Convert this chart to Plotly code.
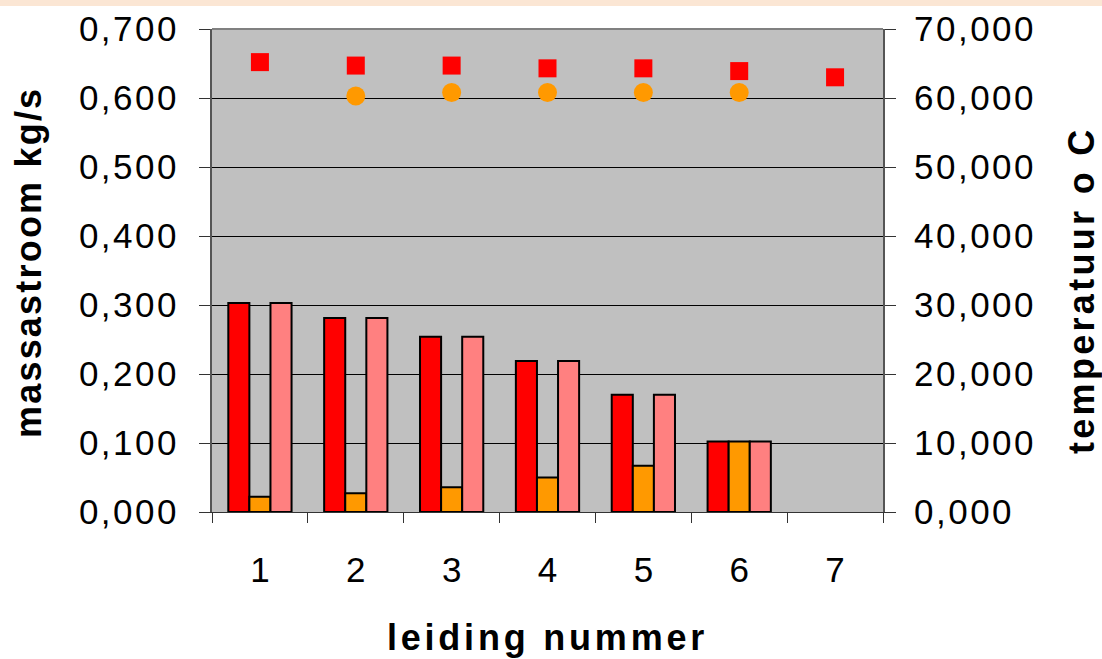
import plotly.graph_objects as go

categories = ["1", "2", "3", "4", "5", "6", "7"]
mass_red = [0.303, 0.281, 0.254, 0.219, 0.170, 0.102, None]
mass_orange = [0.022, 0.027, 0.036, 0.050, 0.067, 0.102, None]
mass_pink = [0.303, 0.281, 0.254, 0.219, 0.170, 0.102, None]
temp_red = [65.2, 64.7, 64.7, 64.3, 64.3, 63.9, 63.0]
temp_orange = [None, 60.3, 60.8, 60.8, 60.8, 60.8, None]

left_ticks = [0.0, 0.1, 0.2, 0.3, 0.4, 0.5, 0.6, 0.7]
left_ticktext = ["0,000", "0,100", "0,200", "0,300", "0,400", "0,500", "0,600", "0,700"]
right_ticks = [0, 10, 20, 30, 40, 50, 60, 70]
right_ticktext = ["0,000", "10,000", "20,000", "30,000", "40,000", "50,000", "60,000", "70,000"]

FONT = "Liberation Sans, Arial, sans-serif"
PW, PH, L, T = 671, 483, 212, 29


def spaced(t, px):
    return f'<span style="letter-spacing:{px}px">{t}</span>'


fig = go.Figure()
bar_line = dict(color="black", width=2)
fig.add_trace(go.Bar(x=categories, y=mass_red, marker=dict(color="#FF0000", line=bar_line), showlegend=False))
fig.add_trace(go.Bar(x=categories, y=mass_orange, marker=dict(color="#FF9900", line=bar_line), showlegend=False))
fig.add_trace(go.Bar(x=categories, y=mass_pink, marker=dict(color="#FF8080", line=bar_line), showlegend=False))
fig.add_trace(go.Scatter(x=categories, y=temp_red, yaxis="y2", mode="markers",
                         marker=dict(symbol="square", size=18, color="#FF0000"), showlegend=False))
fig.add_trace(go.Scatter(x=categories, y=temp_orange, yaxis="y2", mode="markers",
                         marker=dict(symbol="circle", size=19, color="#FF9900"), showlegend=False))

fig.update_layout(
    width=1102, height=659,
    margin=dict(l=L, r=219, t=T, b=147, autoexpand=False),
    paper_bgcolor="white", plot_bgcolor="#C0C0C0",
    barmode="group", bargap=0.34, bargroupgap=0,
    font=dict(family=FONT, color="black"),
    xaxis=dict(
        type="category", ticks="outside", tickson="boundaries", ticklen=10,
        tickcolor="#333333", tickwidth=1, automargin=False,
        tickfont=dict(size=35), showgrid=False, ticklabelstandoff=27,
        showline=True, linecolor="#333333", linewidth=1,
        title=dict(text="<b>" + spaced("leiding nummer", 3.8) + "</b>", font=dict(size=36), standoff=36),
    ),
    yaxis=dict(
        range=[0, 0.7], tickvals=left_ticks, ticktext=[spaced(t, 2.5) for t in left_ticktext],
        ticks="outside", ticklen=11, tickcolor="#333333", automargin=False,
        tickfont=dict(size=35), showgrid=True, gridcolor="black", gridwidth=1,
        ticklabelstandoff=13,
        showline=True, linecolor="#555555", linewidth=2, zeroline=False,
    ),
    yaxis2=dict(
        range=[0, 70], tickvals=right_ticks, ticktext=[spaced(t, 2.5) for t in right_ticktext],
        overlaying="y", side="right", automargin=False,
        ticks="outside", ticklen=11, tickcolor="#333333",
        tickfont=dict(size=35), showgrid=False, ticklabelstandoff=11,
        showline=True, linecolor="#555555", linewidth=2, zeroline=False,
    ),
    annotations=[
        dict(text="<b>" + spaced("massastroom kg/s", 2.2) + "</b>", textangle=-90,
             xref="paper", yref="paper", x=(28 - L) / PW, y=(T + PH - 263) / PH,
             xanchor="center", yanchor="middle", showarrow=False, font=dict(size=36)),
        dict(text="<b>" + spaced("temperatuur o C", 3.3) + "</b>", textangle=-90,
             xref="paper", yref="paper", x=(1081 - L) / PW, y=(T + PH - 290) / PH,
             xanchor="center", yanchor="middle", showarrow=False, font=dict(size=36)),
    ],
    shapes=[
        dict(type="rect", xref="paper", yref="paper", x0=0, x1=1, y0=1, y1=1, line=dict(color="#808080", width=2)),
        dict(type="rect", xref="paper", yref="paper", x0=-L / PW, x1=(1102 - L) / PW,
             y0=1 + 23 / PH, y1=1 + 29 / PH, line=dict(width=0), fillcolor="#FBE6D4", layer="below"),
    ],
)

fig.write_html("out.html", config={"displayModeBar": False},
               post_script="document.body.style.margin='0';document.body.style.overflow='hidden';")
